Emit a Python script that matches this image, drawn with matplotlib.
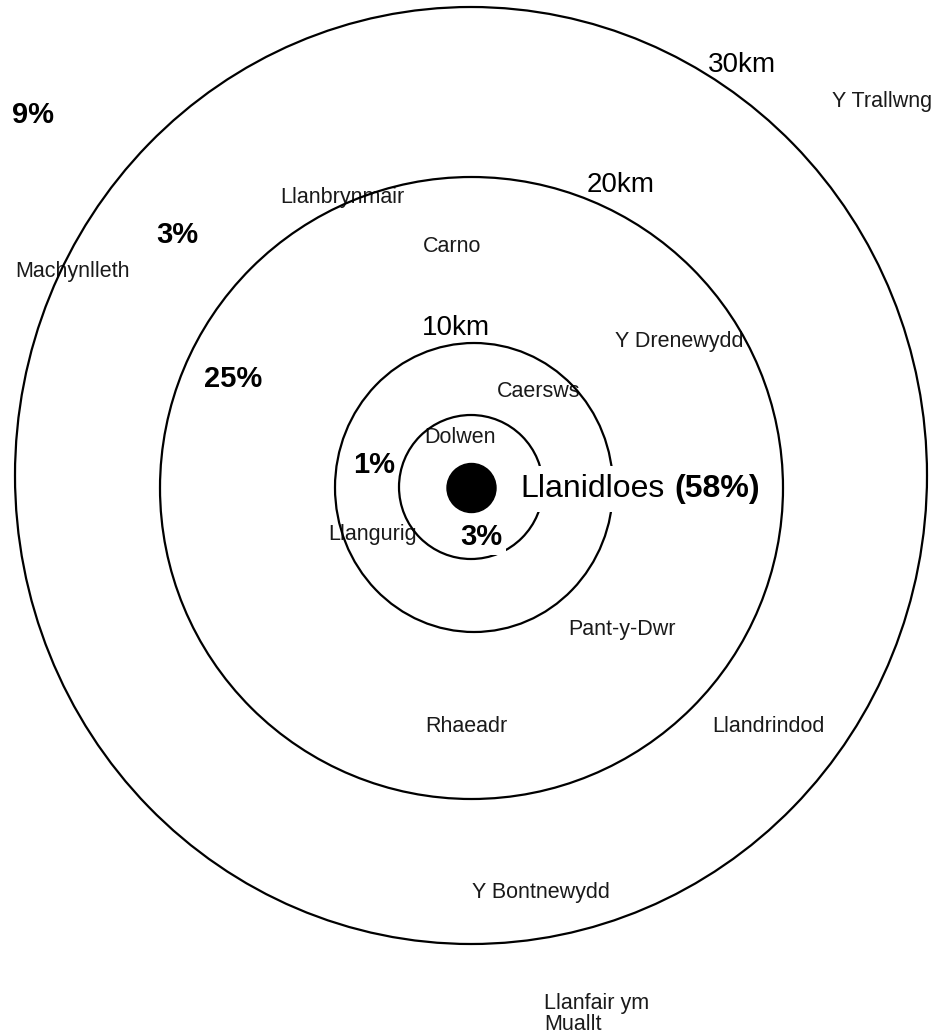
import matplotlib
matplotlib.use('Agg')
import matplotlib.pyplot as plt
from matplotlib.patches import Ellipse, Circle
from matplotlib import font_manager

# places around the town (Welsh names)
PLACES = ['Y Trallwng', 'Llanbrynmair', 'Carno', 'Machynlleth',
          'Y Drenewydd', 'Caersws', 'Dolwen', 'Llangurig',
          'Pant-y-Dwr', 'Rhaeadr', 'Llandrindod', 'Y Bontnewydd',
          'Llanfair ym\nMuallt']
# distance rings
RING_LABELS = ['10km', '20km', '30km']
# share of people in each band, inner to outer
BAND_SHARES = ['3%', '1%', '25%', '3%', '9%']
CENTRE_NAME = 'Llanidloes'
CENTRE_SHARE = '(58%)'

# layout in pixels (left x, baseline y)
PLACE_POS = [(832, 107), (280, 203), (423, 252), (15, 277),
             (615, 347), (497, 397), (424, 443), (328, 540),
             (568, 635), (425, 732), (712, 732), (472, 898),
             (544, 1009)]
RING_LABEL_POS = [(422, 335), (587, 192), (708, 72)]
BAND_POS = [(460, 545), (353, 473), (204, 387), (156, 243), (12, 123)]
# ring ellipses: centre x, centre y, width, height
RINGS = [(471, 487, 144, 144), (474, 487.5, 278, 289),
         (471.5, 488, 623, 622), (471, 475.5, 912, 937)]

W, H = 937, 1036

fnames = {f.name for f in font_manager.fontManager.ttflist}
if 'Liberation Sans Narrow' in fnames:
    PLACE_FONT, PLACE_SIZE = 'Liberation Sans Narrow', 18.5
else:
    PLACE_FONT, PLACE_SIZE = 'Liberation Sans', 15.5
MAIN_FONT = 'Liberation Sans'

fig = plt.figure(figsize=(W / 100, H / 100), dpi=100)
ax = fig.add_axes([0, 0, 1, 1])
ax.set_xlim(0, W)
ax.set_ylim(H, 0)
ax.axis('off')

# rings
for cx, cy, w, h in RINGS:
    ax.add_patch(Ellipse((cx, cy), w, h, fill=False, ec='black',
                         lw=1.6, zorder=1))

# the town itself
ax.add_patch(Circle((471.5, 488), 24.5, color='black', zorder=2))

# place names
for name, (x, y) in zip(PLACES, PLACE_POS):
    if '\n' in name:
        lines = name.split('\n')
        for k, line in enumerate(lines):
            ax.text(x, y + k * 21, line, family=PLACE_FONT,
                    fontsize=PLACE_SIZE, color='#1a1a1a',
                    ha='left', va='baseline', zorder=0)
    else:
        ax.text(x, y, name, family=PLACE_FONT, fontsize=PLACE_SIZE,
                color='#1a1a1a', ha='left', va='baseline', zorder=0)

# ring labels
for lab, (x, y) in zip(RING_LABELS, RING_LABEL_POS):
    ax.text(x, y, lab, family=MAIN_FONT, fontsize=20, color='black',
            ha='left', va='baseline', zorder=3)

# band percentages
for i, (lab, (x, y)) in enumerate(zip(BAND_SHARES, BAND_POS)):
    box = dict(fc='white', ec='none', pad=3) if i == 0 else None
    ax.text(x, y, lab, family=MAIN_FONT, fontsize=21, weight='bold',
            color='black', ha='left', va='baseline', bbox=box, zorder=3)

# centre label, with white box hiding the rings behind it
t1 = ax.text(520, 497, CENTRE_NAME, family=MAIN_FONT, fontsize=23,
             color='black', ha='left', va='baseline', zorder=3,
             bbox=dict(fc='white', ec='none', pad=6))
ax.annotate(CENTRE_SHARE, xy=(1, 0), xycoords=t1, xytext=(7, 0),
            textcoords='offset points', family=MAIN_FONT, fontsize=23,
            weight='bold', color='black', ha='left', va='bottom',
            zorder=3, bbox=dict(fc='white', ec='none', pad=6))

fig.savefig('out.png', dpi=100, facecolor='white')
